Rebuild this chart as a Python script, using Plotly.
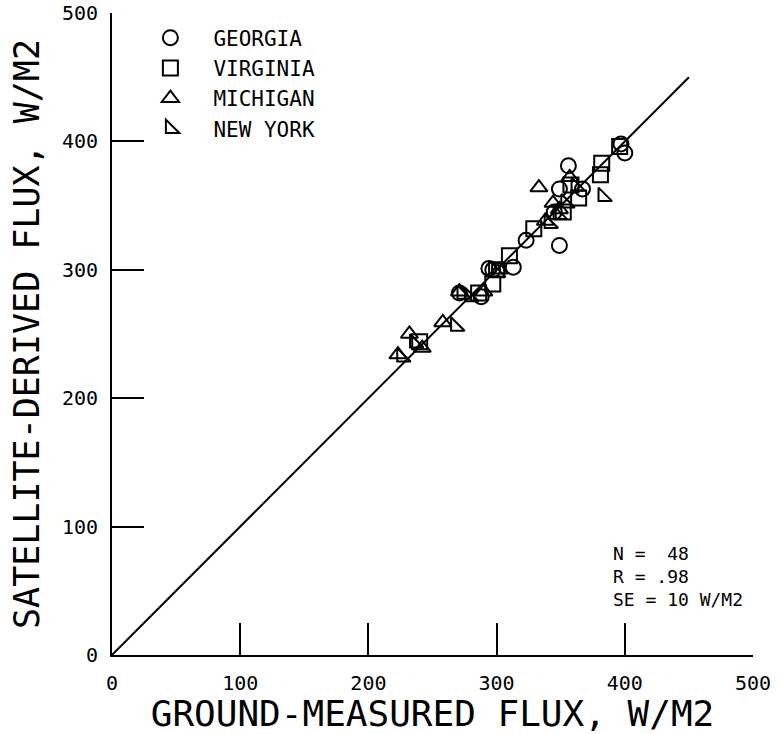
import plotly.graph_objects as go

# Data (W/M2)
georgia_x = [397, 400, 356, 349, 367, 349, 323, 313, 294, 297, 271, 288, 345]
georgia_y = [398, 391, 381, 363, 363, 319, 323, 302, 301, 300, 282, 279, 345]
virginia_x = [396, 382, 381, 364, 358, 329, 310, 297, 286, 240, 352, 300]
virginia_y = [396, 383, 374, 356, 366, 332, 311, 289, 282, 244, 345, 300]
michigan_x = [333, 357, 344, 349, 258, 232, 242, 223, 271, 290, 302, 338]
michigan_y = [364, 372, 352, 347, 259, 250, 239, 234, 283, 283, 300, 338]
newyork_x = [383, 341, 268, 236, 226, 273, 348, 354, 300, 279, 362]
newyork_y = [357, 336, 256, 243, 232, 281, 343, 352, 298, 279, 365]

line_x = [0, 450]
line_y = [0, 450]

tick_vals = [0, 100, 200, 300, 400, 500]
tick_text = ["0", "100", "200", "300", "400", "500"]

stats_lines = ["N =  48", "R = .98", "SE = 10 W/M2"]
stats_y = [79, 61, 43]
stats_x = 389

FONT = "DejaVu Sans Mono"

fig = go.Figure()
fig.add_trace(go.Scatter(x=line_x, y=line_y, mode="lines",
                         line=dict(color="black", width=2), showlegend=False,
                         hoverinfo="skip"))

series = [
    ("GEORGIA", georgia_x, georgia_y, "circle-open"),
    ("VIRGINIA", virginia_x, virginia_y, "square-open"),
    ("MICHIGAN", michigan_x, michigan_y, "triangle-up-open"),
    ("NEW YORK", newyork_x, newyork_y, "triangle-sw-open"),
]
for name, xs, ys, sym in series:
    fig.add_trace(go.Scatter(
        x=xs, y=ys, mode="markers", name=name, legendgroup=name,
        marker=dict(symbol=sym, size=15, color="black",
                    line=dict(color="black", width=2)),
    ))

for txt, yy in zip(stats_lines, stats_y):
    fig.add_annotation(x=stats_x, y=yy, text=txt, showarrow=False,
                       xanchor="left", yanchor="middle",
                       font=dict(family=FONT, size=18, color="black"))

axis_common = dict(
    range=[0, 500], tickvals=tick_vals, ticktext=tick_text,
    ticks="inside", ticklen=32, tickwidth=2, tickcolor="black",
    showline=True, linecolor="black", linewidth=2,
    showgrid=False, zeroline=False, automargin=False,
    tickfont=dict(family=FONT, size=20, color="black"),
)

fig.update_layout(
    width=782, height=734,
    margin=dict(l=112, r=29, t=13, b=79),
    paper_bgcolor="white", plot_bgcolor="white",
    xaxis=dict(**axis_common, ticklabelstandoff=9,
               title=dict(text="GROUND-MEASURED FLUX, W/M2",
                          font=dict(family=FONT, size=36, color="black"),
                          standoff=6)),
    yaxis=dict(**axis_common, ticklabelstandoff=8,
               title=dict(text="SATELLITE-DERIVED FLUX, W/M2",
                          font=dict(family=FONT, size=35, color="black"),
                          standoff=12)),
    legend=dict(x=0.024, y=0.993, xanchor="left", yanchor="top",
                bgcolor="rgba(0,0,0,0)",
                font=dict(family=FONT, size=21, color="black"),
                tracegroupgap=0, itemwidth=76),
    showlegend=True,
)

fig.write_html("out.html")
